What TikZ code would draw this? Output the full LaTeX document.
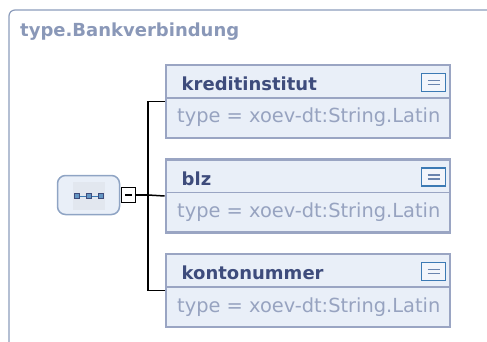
\documentclass[tikz,border=0pt]{standalone}
\usepackage{fontspec}
\setmainfont{DejaVu Sans}
\usepackage{xcolor}
\definecolor{xsframe}{HTML}{8C9CBB}
\definecolor{xstitle}{HTML}{8A98B8}
\definecolor{xsname}{HTML}{3E4C7C}
\definecolor{xstype}{HTML}{97A3C0}
\definecolor{xsborder}{HTML}{9AA5C3}
\definecolor{xsfill}{HTML}{E9EFF8}
\definecolor{xsicon}{HTML}{3C7AB4}
\definecolor{xsiconline}{HTML}{6A84AE}
\definecolor{xsseq}{HTML}{8FA4C4}
\definecolor{xsseqin}{HTML}{E2E7EF}
\usetikzlibrary{positioning,calc}

\begin{document}
\begin{tikzpicture}[x=1pt,y=-1pt]
\tikzset{
 elem/.style={draw=xsborder,line width=2.8pt,fill=xsfill,minimum width=284pt,minimum height=73pt,inner sep=0pt},
 ename/.style={font=\bfseries\fontsize{18}{21}\selectfont,text=xsname,anchor=base west,inner sep=0pt},
 etype/.style={font=\fontsize{19.4}{22}\selectfont,text=xstype,anchor=base west,inner sep=0pt},
 docicon/.style={draw=xsicon,line width=1.8pt,fill=xsfill!60!white,minimum width=24pt,minimum height=18pt,inner sep=0pt},
 seq/.style={draw=xsseq,line width=1.5pt,fill=xsfill,rounded corners=8pt,minimum width=62pt,minimum height=39pt},
 minusbox/.style={draw,line width=1.6pt,fill=white,minimum width=14pt,minimum height=15pt,inner sep=0pt},
 conn/.style={line width=1.5pt}
}
\useasboundingbox (0,0) rectangle (487,342);
% outer type frame
\draw[xsframe,line width=1.2pt,rounded corners=6pt] (9,345) -- (9,10) -- (490,10);
\node[font=\bfseries\fontsize{18}{21}\selectfont,text=xstitle,anchor=base west,inner sep=0pt] (title) at (20,37) {type.Bankverbindung};

% elements
\node[elem] (kred) at (308,101.5) {};
\node[ename] (kred-name) at (181.5,90.5) {kreditinstitut};
\node[etype] (kred-type) at (177,123) {type = xoev-dt:String.Latin};
\draw[xsborder,line width=1.5pt] ($(kred.west)+(2,-3.5)$) -- ($(kred.east)+(-2,-3.5)$);
\node[docicon] (kred-doc) at (433.5,82.5) {};

\node[elem] (blz) at (308,196) {};
\node[ename] (blz-name) at (181.5,185) {blz};
\node[etype] (blz-type) at (177,217.5) {type = xoev-dt:String.Latin};
\draw[xsborder,line width=1.5pt] ($(blz.west)+(2,-3.5)$) -- ($(blz.east)+(-2,-3.5)$);
\node[docicon] (blz-doc) at (433.5,177) {};

\node[elem] (konto) at (308,290.5) {};
\node[ename] (konto-name) at (181.5,279.5) {kontonummer};
\node[etype] (konto-type) at (177,312) {type = xoev-dt:String.Latin};
\draw[xsborder,line width=1.5pt] ($(konto.west)+(2,-3.5)$) -- ($(konto.east)+(-2,-3.5)$);
\node[docicon] (konto-doc) at (433.5,271.5) {};

% lines in the doc icons
\foreach \d in {kred-doc,blz-doc,konto-doc}{
 \draw[xsiconline,line width=1.5pt] ($(\d.center)+(-6,-1.8)$) -- ($(\d.center)+(6,-1.8)$);
 \draw[xsiconline,line width=1.5pt] ($(\d.center)+(-6,1.8)$) -- ($(\d.center)+(6,1.8)$);
}

% sequence compositor
\node[seq] (seq) at (88.5,195) {};
\fill[xsseqin] (73,181.5) rectangle (105,210);
\draw[xsicon,line width=0.8pt] (76.5,196) -- (101,196);
\foreach \x in {76.5,89,101}
 \filldraw[fill=xsicon!80,draw=xsname,line width=0.6pt] (\x-2.5,193.5) rectangle (\x+2.5,198.5);
\node[minusbox] (minus) at (128.5,195) {};
\draw[line width=1.5pt] ($(minus.center)+(-3.5,0)$) -- ($(minus.center)+(3.5,0)$);

% connectors
\coordinate (fork) at (148,195);
\draw[conn] (minus.east) -- (fork);
\draw[conn] (kred.west) -| (fork);
\draw[conn] (blz.west) -- (fork);
\draw[conn] (konto.west) -| (fork);
\end{tikzpicture}
\end{document}
